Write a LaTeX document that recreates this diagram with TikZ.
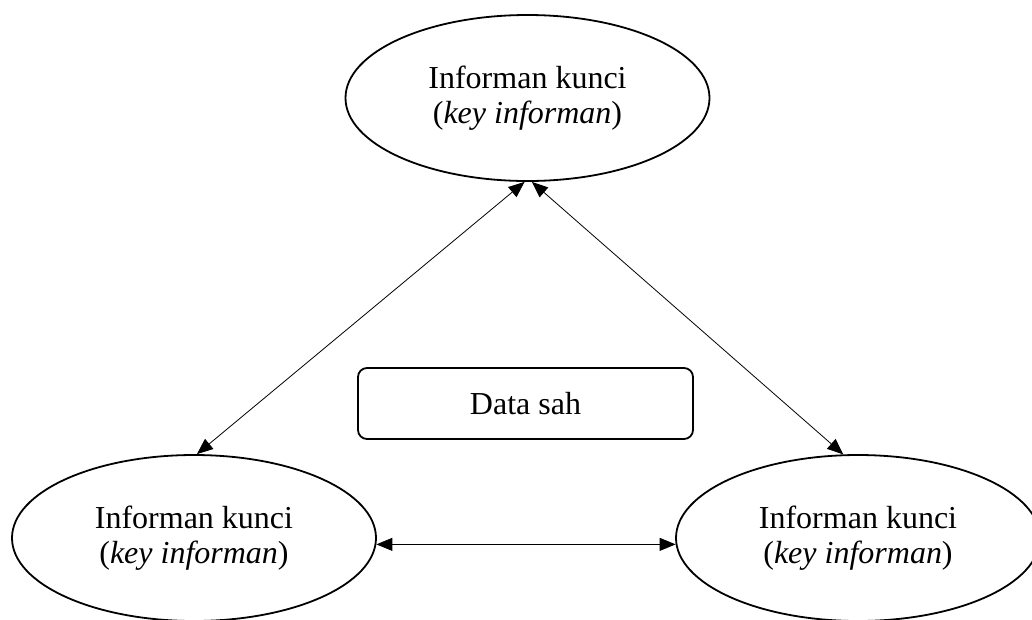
\documentclass[tikz,border=0pt]{standalone}
\usepackage{fontspec}
\setmainfont{Liberation Serif}
\usetikzlibrary{shapes.geometric,arrows.meta}
\begin{document}
\begin{tikzpicture}[x=1pt,y=-1pt,
  infobox/.style={ellipse,draw,line width=1.8pt,minimum width=364pt,minimum height=166pt,inner sep=0pt,align=center,font=\fontsize{32}{35.5}\selectfont},
  databox/.style={rectangle,draw,line width=1.8pt,rounded corners=9pt,minimum width=335pt,minimum height=71pt,inner sep=0pt,font=\fontsize{32}{35}\selectfont},
  link/.style={line width=0.8pt,{Triangle[length=16pt,width=13pt]}-{Triangle[length=16pt,width=13pt]}}]
\useasboundingbox (0,0) rectangle (1032,619);
\begin{scope}
\clip (0,0) rectangle (1032,619);
\node[infobox] (top) at (527.5,98) {Informan kunci\\(\textit{key informan})};
\node[infobox] (bl) at (194,538) {Informan kunci\\(\textit{key informan})};
\node[infobox] (br) at (858,538) {Informan kunci\\(\textit{key informan})};
\end{scope}
\node[databox] (data) at (525.5,403.5) {Data sah};
\draw[link] (bl.88.6) -- (top.268.3);
\draw[link] (top.273) -- (br.100);
\draw[link] (bl.-2.5) -- (br.182.6);
\end{tikzpicture}
\end{document}
